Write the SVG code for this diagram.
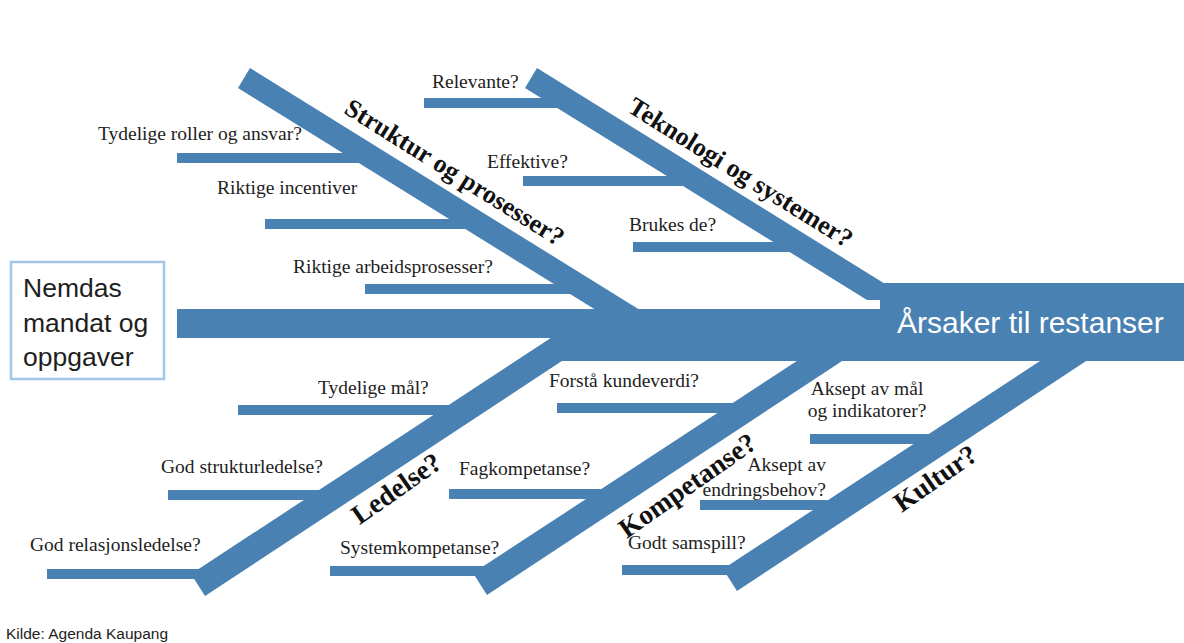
<svg xmlns="http://www.w3.org/2000/svg" width="1184" height="643" viewBox="0 0 1184 643">
<style>
.b{fill:#4a81b3}
.t{font-family:"Liberation Serif","Times New Roman",serif;font-size:19.5px;fill:#1e1e1e}
.c{font-family:"Liberation Serif","Times New Roman",serif;font-size:26px;font-weight:bold;fill:#111}
.d{font-family:"Liberation Serif","Times New Roman",serif;font-size:27.5px;font-weight:bold;fill:#111}
.s{font-family:"Liberation Sans",Arial,sans-serif}
</style>
<rect width="1184" height="643" fill="#fff"/>
<g id="connectors">
<rect class="b" x="177" y="309" width="720" height="29"/>
<rect class="b" x="550" y="309" width="634" height="52"/>
<polygon class="b" points="250,68 656,320 612,320 238,88"/>
<polygon class="b" points="537,68 911,300 867,300 525,88"/>
<polygon class="b" points="191,574 563,330 609,330 205,596"/>
<polygon class="b" points="473,573 829,340 874,340 487,595"/>
<polygon class="b" points="723,569 1072,340 1118,340 737,591"/>
<rect class="b" x="177" y="153" width="190" height="10"/>
<rect class="b" x="265" y="219" width="200" height="10"/>
<rect class="b" x="365" y="284" width="205" height="10"/>
<rect class="b" x="424" y="98" width="136" height="10"/>
<rect class="b" x="523" y="176" width="162" height="10"/>
<rect class="b" x="633" y="242" width="162" height="10"/>
<rect class="b" x="238" y="405" width="212" height="10"/>
<rect class="b" x="168" y="490" width="157" height="10"/>
<rect class="b" x="47" y="569" width="158" height="10"/>
<rect class="b" x="557" y="403" width="178" height="10"/>
<rect class="b" x="449" y="489" width="156" height="10"/>
<rect class="b" x="330" y="566" width="155" height="10"/>
<rect class="b" x="810" y="434" width="130" height="10"/>
<rect class="b" x="700" y="500" width="140" height="10"/>
<rect class="b" x="622" y="565" width="113" height="10"/>
</g>
<g id="head">
<rect class="b" x="880" y="283" width="304" height="78"/>
<text class="s" x="897" y="333" font-size="30" fill="#fff">Årsaker til restanser</text>
</g>
<g id="start">
<rect x="11" y="262" width="153" height="117" fill="#fff" stroke="#a3c7e6" stroke-width="2.5"/>
<text class="s" font-size="26.5" fill="#1e1e1e"><tspan x="23" y="297">Nemdas</tspan><tspan x="23" y="332">mandat og</tspan><tspan x="23" y="366">oppgaver</tspan></text>
</g>
<g id="struktur">
<text class="c" text-anchor="middle" dy="0.35em" transform="translate(455,172) rotate(32)">Struktur og prosesser?</text>
<text class="t" x="98" y="140">Tydelige roller og ansvar?</text>
<text class="t" x="217" y="194">Riktige incentiver</text>
<text class="t" x="293" y="273">Riktige arbeidsprosesser?</text>
</g>
<g id="teknologi">
<text class="c" text-anchor="middle" dy="0.35em" transform="translate(741,172) rotate(32)">Teknologi og systemer?</text>
<text class="t" x="432" y="88">Relevante?</text>
<text class="t" x="487" y="168">Effektive?</text>
<text class="t" x="629" y="231">Brukes de?</text>
</g>
<g id="ledelse">
<text class="d" text-anchor="middle" dy="0.35em" transform="translate(396,488) rotate(-35)">Ledelse?</text>
<text class="t" x="318" y="394">Tydelige mål?</text>
<text class="t" x="161" y="473">God strukturledelse?</text>
<text class="t" x="30" y="551">God relasjonsledelse?</text>
</g>
<g id="kompetanse">
<text class="d" text-anchor="middle" dy="0.35em" transform="translate(687,485) rotate(-35)">Kompetanse?</text>
<text class="t" x="549" y="387">Forstå kundeverdi?</text>
<text class="t" x="459" y="475">Fagkompetanse?</text>
<text class="t" x="340" y="554">Systemkompetanse?</text>
</g>
<g id="kultur">
<text class="d" text-anchor="middle" dy="0.35em" transform="translate(935,478) rotate(-35)">Kultur?</text>
<text class="t" text-anchor="middle" x="867" y="395">Aksept av mål</text>
<text class="t" text-anchor="middle" x="867" y="417">og indikatorer?</text>
<text class="t" text-anchor="end" x="826" y="471">Aksept av</text>
<text class="t" text-anchor="end" x="826" y="496">endringsbehov?</text>
<text class="t" x="628" y="549">Godt samspill?</text>
</g>
<text class="s" x="6" y="639" font-size="15.5" fill="#222">Kilde: Agenda Kaupang</text>
</svg>
